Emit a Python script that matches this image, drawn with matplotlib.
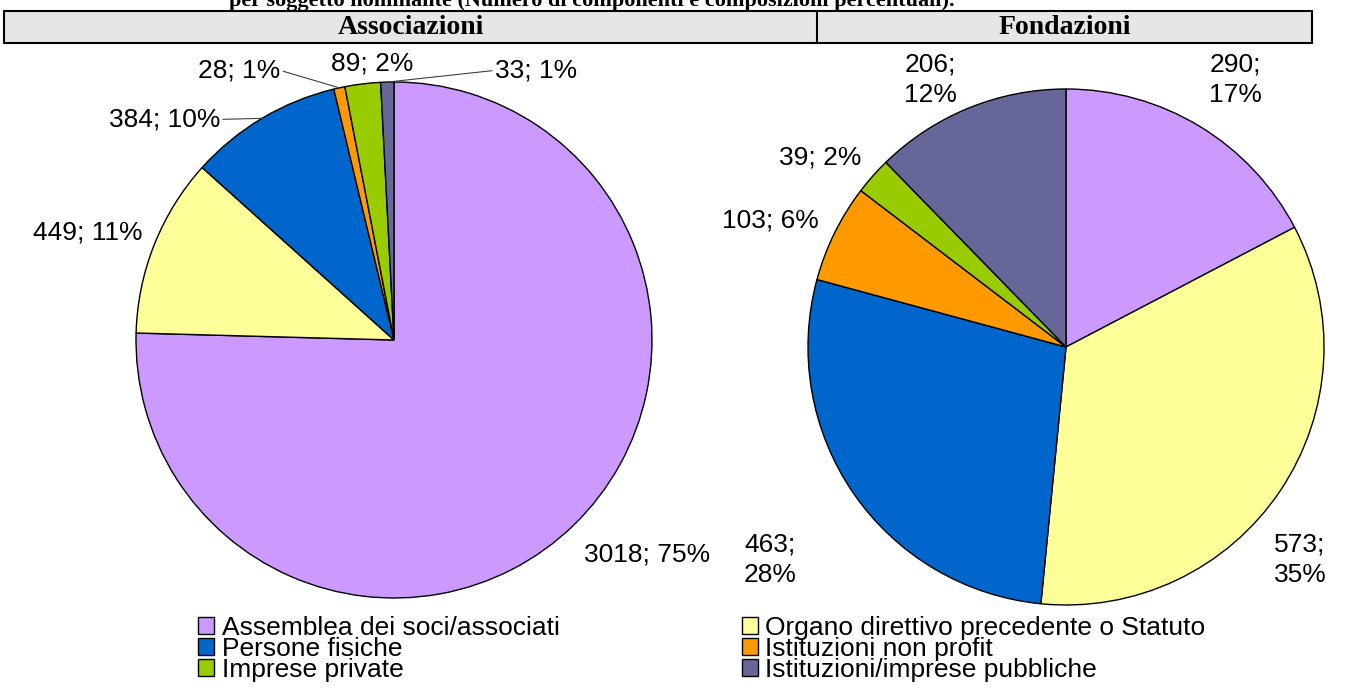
import numpy as np
import matplotlib
matplotlib.use("Agg")
import matplotlib.pyplot as plt
from matplotlib.patches import Rectangle

categories = ["Assemblea dei soci/associati", "Organo direttivo precedente o Statuto",
              "Persone fisiche", "Istituzioni non profit", "Imprese private",
              "Istituzioni/imprese pubbliche"]
colors = ["#CC99FF", "#FFFF99", "#0066CC", "#FF9900", "#99CC00", "#666699"]

assoc_vals = [3018, 449, 384, 28, 89, 33]
assoc_pct = [75, 11, 10, 1, 2, 1]
fond_vals = [290, 573, 463, 103, 39, 206]
fond_pct = [17, 35, 28, 6, 2, 12]

plt.rcParams["font.family"] = ["Liberation Sans", "DejaVu Sans"]
W, H = 1350, 689
fig = plt.figure(figsize=(13.5, 6.89), dpi=100)
FS = 19

# title (cut at the top edge like the original)
fig.text(592 / W, 1 - 6 / H, "per soggetto nominante (Numero di componenti e composizioni percentuali).",
         ha="center", va="baseline", fontsize=16, fontweight="bold", family="Liberation Serif")

# header band
hx0, hx1, hxm, hy0, hy1 = 4, 1312, 817, 11, 43
fig.patches.append(Rectangle((hx0 / W, 1 - hy1 / H), (hx1 - hx0) / W, (hy1 - hy0) / H,
                             transform=fig.transFigure, facecolor="#E6E6E6", edgecolor="black", lw=1.5))
fig.add_artist(plt.Line2D([hxm / W, hxm / W], [1 - hy1 / H, 1 - hy0 / H], transform=fig.transFigure,
                          color="black", lw=1.5))
fig.text((hx0 + hxm) / 2 / W, 1 - 28 / H, "Associazioni", ha="center", va="center",
         fontsize=20, fontweight="bold", family="Liberation Serif")
fig.text((hxm + hx1) / 2 / W, 1 - 28 / H, "Fondazioni", ha="center", va="center",
         fontsize=20, fontweight="bold", family="Liberation Serif")

R = 258


def make_pie(cx, cy, vals, pct, label_pos, leaders, multiline):
    ax = fig.add_axes([(cx - R) / W, 1 - (cy + R) / H, 2 * R / W, 2 * R / H])
    wedges, _ = ax.pie(vals, colors=colors, startangle=90, counterclock=False, radius=1,
                       wedgeprops=dict(edgecolor="black", linewidth=1))
    ax.set_xlim(-1, 1)
    ax.set_ylim(-1, 1)
    ax.axis("off")
    for i, w in enumerate(wedges):
        sep = "\n" if multiline[i] else " "
        txt = f"{vals[i]};{sep}{pct[i]}%"
        tx, ty = label_pos[i]
        if leaders[i] is not None:
            mid = np.deg2rad((w.theta1 + w.theta2) / 2)
            ax.annotate(txt, xy=(np.cos(mid), np.sin(mid)), xytext=(tx, ty),
                        ha="center", va="center", fontsize=FS, linespacing=1.35,
                        arrowprops=dict(arrowstyle="-", color="#404040", lw=0.8,
                                        shrinkA=0, shrinkB=0, relpos=leaders[i]),
                        annotation_clip=False)
        else:
            ax.text(tx, ty, txt, ha="center", va="center", fontsize=FS, linespacing=1.35)
    return wedges


wl = make_pie(394, 340, assoc_vals, assoc_pct,
              [(0.98, -0.83), (-1.186, 0.415), (-0.89, 0.855), (-0.60, 1.045), (-0.085, 1.07), (0.55, 1.045)],
              [None, None, (1, 0.5), (1, 0.5), None, (0, 0.5)],
              [False] * 6)
wr = make_pie(1066, 347, fond_vals, fond_pct,
              [(0.655, 1.035), (0.907, -0.826), (-1.147, -0.826), (-1.147, 0.492), (-0.953, 0.736), (-0.527, 1.035)],
              [None] * 6,
              [True, True, True, False, False, True])

order = [0, 2, 4, 1, 3, 5]
fig.legend([wl[i] for i in order], [categories[i] for i in order], ncol=2,
           loc="upper left", bbox_to_anchor=(198 / W, 1 - 616 / H), frameon=False,
           fontsize=FS, handlelength=0.6, handleheight=0.6, handletextpad=0.3,
           labelspacing=-0.12, columnspacing=6.9, borderpad=0, borderaxespad=0)

fig.savefig("out.png", dpi=100)
